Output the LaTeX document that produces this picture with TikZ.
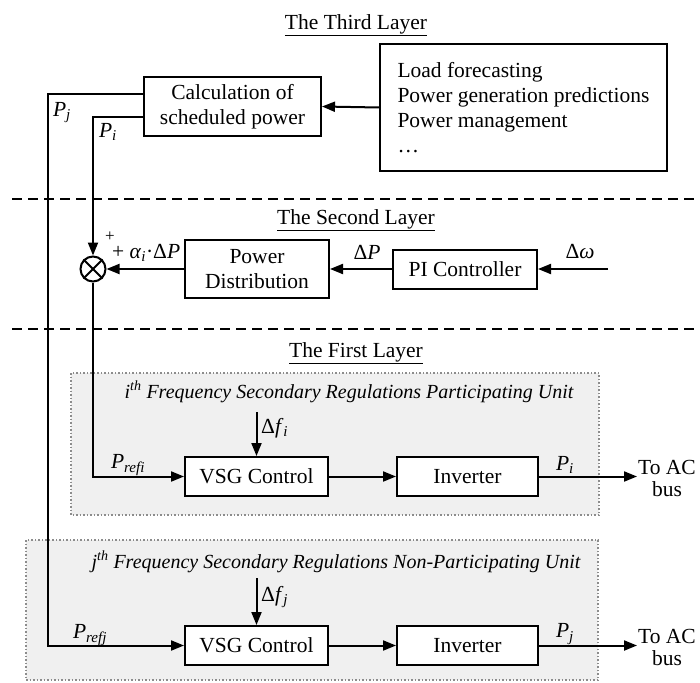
\documentclass[tikz,border=0pt]{standalone}
\usepackage{fontspec}
\setmainfont{Liberation Serif}
\usetikzlibrary{arrows.meta}
\newcommand\vv[2]{\textit{#1}\textsubscript{\textit{#2}}}
\begin{document}
\begin{tikzpicture}[x=1pt,y=-1pt,
  font=\fontsize{21.5}{25}\selectfont,
  blk/.style={draw, line width=2pt, fill=white, inner sep=0pt, align=center},
  conn/.style={line width=2pt},
  arr/.style={conn, -{Triangle[length=13pt,width=10pt]}},
  layerline/.style={line width=2pt, dash pattern=on 10pt off 6pt},
  unitbox/.style={fill=black!6, draw=black!45, line width=1.5pt, dotted},
  lbl/.style={inner sep=0pt},
  ttl/.style={inner sep=0pt},
  unithdr/.style={inner sep=0pt, font=\itshape\fontsize{20}{24}\selectfont},
  bus/.style={inner sep=0pt, align=center, font=\fontsize{21.5}{22}\selectfont}
]
\useasboundingbox (0,0) rectangle (700,682);

% unit background boxes
\draw[unitbox] (71,373) rectangle (599,515);
\draw[unitbox] (26,540) rectangle (598,680);

% layer separators
\coordinate (d1a) at (12,199); \coordinate (d1b) at (700,199);
\coordinate (d2a) at (12,329); \coordinate (d2b) at (700,329);
\draw[layerline] (d1a) -- (d1b);
\draw[layerline] (d2a) -- (d2b);

% titles
\node[ttl] (t3) at (356,25) {\underline{The Third Layer}};
\node[ttl] (t2) at (356,220) {\underline{The Second Layer}};
\node[ttl] (t1) at (356,353) {\underline{The First Layer}};

% third layer
\node[blk, minimum width=287pt, minimum height=127pt, align=left] (load) at (523.5,107.5)
  {Load forecasting\\Power generation predictions\\Power management\\\ldots};
\node[blk, minimum width=177pt, minimum height=59pt] (calc) at (232.5,106.5)
  {Calculation of\\scheduled power};

% second layer
\node[circle, draw, line width=2pt, minimum size=25pt, inner sep=0pt] (sum) at (93,269) {};
\draw[conn] (sum.north west) -- (sum.south east);
\draw[conn] (sum.north east) -- (sum.south west);
\node[blk, minimum width=144pt, minimum height=58pt] (pd) at (257,269) {Power\\Distribution};
\node[blk, minimum width=144pt, minimum height=39pt] (pic) at (465,269) {PI Controller};
\coordinate (win) at (608,269);

% first layer units
\node[blk, minimum width=143pt, minimum height=39pt] (vsg1) at (256.5,476.5) {VSG Control};
\node[blk, minimum width=141pt, minimum height=39pt] (inv1) at (467.5,476.5) {Inverter};
\node[blk, minimum width=143pt, minimum height=39pt] (vsg2) at (256.5,645.5) {VSG Control};
\node[blk, minimum width=141pt, minimum height=39pt] (inv2) at (467.5,645.5) {Inverter};
\coordinate (dfi) at (256.5,412);
\coordinate (dfj) at (256.5,578);
\coordinate (out1) at (637,476.5);
\coordinate (out2) at (637,645.5);
\coordinate (pjc) at (48,645.5);

% connectors
\draw[arr] (load.west) -- (calc.east);
\draw[arr] ([yshift=12.5pt]calc.west) -| (pjc) -- (vsg2.west);
\draw[arr] ([yshift=-10.5pt]calc.west) -| (sum.north);
\draw[arr] (pd.west) -- (sum.east);
\draw[arr] (pic.west) -- (pd.east);
\draw[arr] (win) -- (pic.east);
\draw[arr] (sum.south) |- (vsg1.west);
\draw[arr] (dfi) -- (vsg1.north);
\draw[arr] (vsg1.east) -- (inv1.west);
\draw[arr] (inv1.east) -- (out1);
\draw[arr] (dfj) -- (vsg2.north);
\draw[arr] (vsg2.east) -- (inv2.west);
\draw[arr] (inv2.east) -- (out2);

% labels
\node[lbl] (lpj) at (62,113) {\vv{P}{j}};
\node[lbl] (lpi) at (108,132) {\vv{P}{i}};
\node[lbl, font=\fontsize{17}{17}\selectfont] (lplus) at (110,237) {+};
\node[lbl, anchor=west] (lalpha) at (112,253) {+ \vv{α}{i}·Δ\textit{P}};
\node[lbl] (ldp) at (367,252) {Δ\textit{P}};
\node[lbl] (ldw) at (580,252) {Δ\textit{ω}};
\node[unithdr] (h1) at (349,392) {\textit{i}\textsuperscript{th} Frequency Secondary Regulations Participating Unit};
\node[unithdr] (h2) at (336,562) {\textit{j}\textsuperscript{th} Frequency Secondary Regulations Non-Participating Unit};
\node[lbl, anchor=west] (ldfi) at (261,428) {Δ\vv{f}{i}};
\node[lbl, anchor=west] (ldfj) at (261,597) {Δ\vv{f}{j}};
\node[lbl] (lpr1) at (128,465) {\vv{P}{refi}};
\node[lbl] (lpr2) at (90,635) {\vv{P}{refj}};
\node[lbl] (lpo1) at (565,465) {\vv{P}{i}};
\node[lbl] (lpo2) at (565,634) {\vv{P}{j}};
\node[bus] (bus1) at (667,478) {To AC\\bus};
\node[bus] (bus2) at (667,647) {To AC\\bus};
\end{tikzpicture}
\end{document}
